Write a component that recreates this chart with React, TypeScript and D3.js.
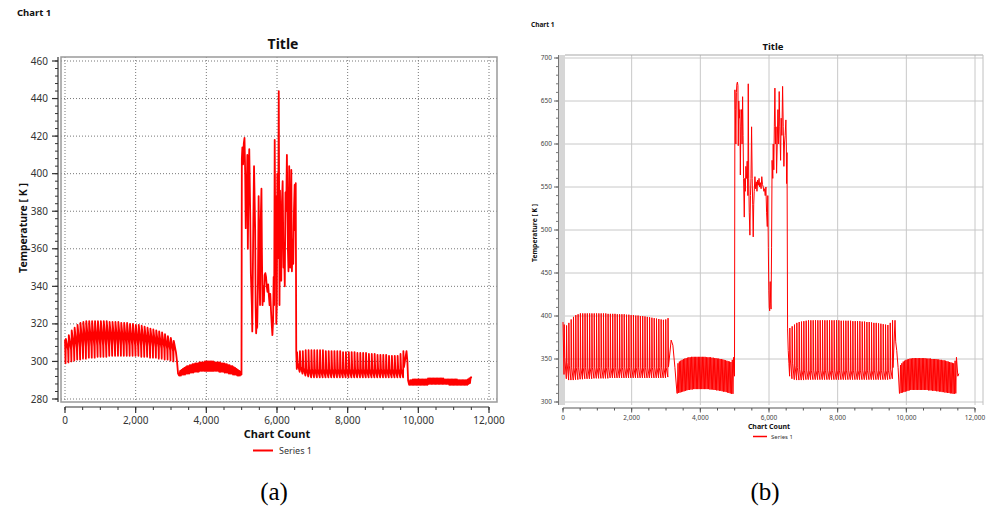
import React from "react";
import * as d3 from "d3";

type Pt = [number, number];

// ---------- shared text / ticks ----------
const chartLabel = "Chart 1";
const chartTitle = "Title";
const xAxisTitle = "Chart Count";
const yAxisTitle = "Temperature [ K ]";
const seriesName = "Series 1";
const countTicks = [0, 2000, 4000, 6000, 8000, 10000, 12000];
const tempTicksA = [280, 300, 320, 340, 360, 380, 400, 420, 440, 460];
const tempTicksB = [300, 350, 400, 450, 500, 550, 600, 650, 700];

// ---------- panel (a) data ----------
const aLeadC = [0];
const aLeadT = [311.5];
const a1Peak = [312, 314, 316.5, 318, 319.5, 320.5, 321, 321.5, 321.5, 321.5, 321.5, 321.5, 321.5, 321.5, 321.5, 321, 321, 321, 321, 320.5, 320.5, 320.5, 320, 320, 319.5, 319.5, 319, 318.5, 318, 317.5, 317, 316.5, 316, 315.5, 314.5, 313.5, 312.5, 311];
const a1Mid = [306, 306.5, 307, 307, 307.5, 307.5, 308, 308, 308, 308, 308.5, 308.5, 308.5, 308.5, 308.5, 308.5, 308.5, 308.5, 308.5, 308.5, 308.5, 308.5, 308.5, 308.5, 308.5, 308.5, 308.5, 308, 308, 308, 307.5, 307.5, 307, 307, 306.5, 306, 305.5, 305];
const a1Low = [299, 299.5, 300, 300.5, 301, 301, 301.5, 301.5, 302, 302, 302, 302.5, 302.5, 302.5, 302.5, 303, 303, 303, 303, 303, 303, 303, 303, 303, 303, 303, 302.5, 302.5, 302.5, 302, 302, 302, 301.5, 301.5, 301, 301, 300.5, 300];
const aT1C = [3170, 3200, 3230];
const aT1T = [300, 293.5, 292.5];
const a2Hi = [295, 295.5, 296, 296.5, 297, 297.5, 297.5, 298, 298, 298.5, 298.5, 299, 299, 299, 299.5, 299.5, 299.5, 299.5, 300, 300, 300, 300, 300, 300, 300, 299.5, 299.5, 299.5, 299.5, 299.5, 299, 299, 299, 298.5, 298.5, 298, 298, 297.5, 297.5, 297, 296.5, 296, 295.5, 295, 294.5];
const a2Lo = [292.5, 292.5, 293, 293, 293, 293.5, 293.5, 293.5, 294, 294, 294, 294.5, 294.5, 294.5, 294.5, 295, 295, 295, 295, 295, 295, 295, 295, 295, 295, 295, 295, 295, 295, 294.5, 294.5, 294.5, 294.5, 294, 294, 294, 293.5, 293.5, 293.5, 293, 293, 293, 292.5, 292.5, 292.5];
const aWildC = [4995, 5005, 5020, 5040, 5060, 5080, 5100, 5115, 5128, 5140, 5160, 5175, 5193, 5215, 5241, 5260, 5288, 5300, 5315, 5330, 5350, 5382, 5395, 5410, 5425, 5440, 5460, 5480, 5505, 5520, 5540, 5560, 5572, 5590, 5610, 5630, 5650, 5670, 5690, 5710, 5730, 5750, 5770, 5790, 5810, 5830, 5850, 5870, 5890, 5905, 5920, 5935, 5949, 5965, 5980, 5995, 6010, 6030, 6050, 6071, 6085, 6100, 6120, 6140, 6160, 6185, 6200, 6220, 6240, 6260, 6280, 6308, 6325, 6345, 6374, 6390, 6405, 6422, 6440, 6460, 6480, 6500, 6515, 6530, 6545, 6555];
const aWildT = [293, 408, 414, 405, 416, 419, 400, 371, 395, 385, 410, 360, 395, 413, 380, 347, 330, 316, 345, 375, 404, 370, 330, 315, 322, 318, 340, 388, 350, 330, 375, 392, 360, 330, 340, 332, 346, 347, 345, 340, 337, 341, 335, 330, 336, 327, 320, 314, 322, 345, 330, 418, 375, 388, 320, 330, 400, 355, 444, 330, 391, 350, 343, 385, 396, 350, 360, 340, 390, 380, 410, 360, 348, 404, 350, 370, 402, 348, 365, 352, 380, 394, 370, 395, 305];
const a4Peak = [305, 305.5, 305.5, 306, 306, 306, 306, 306, 306, 306, 305.5, 305.5, 305.5, 305.5, 305.5, 305.5, 305, 305, 305, 305, 305, 304.5, 304.5, 304.5, 304.5, 304, 304, 304, 303.5, 303.5, 303.5, 303.5, 303, 303, 303, 303, 304, 305.5];
const a4Mid = [299, 297.5, 296.5, 296, 296, 296, 296, 296, 296, 296, 296, 296, 296, 296, 296, 296, 296, 296, 296, 296, 296, 296, 296, 296, 296, 296, 296, 296, 296, 296, 296, 296, 296, 296, 296, 296, 296, 297];
const a4Low = [296, 294.5, 293.5, 292.5, 292, 291.5, 291.5, 291.5, 291.5, 291.5, 291.5, 291.5, 291.5, 291.5, 291.5, 291.5, 291.5, 291.5, 291.5, 291.5, 291.5, 291.5, 291.5, 291.5, 291.5, 291.5, 291.5, 291.5, 291.5, 291.5, 291.5, 291.5, 291.5, 291.5, 291.5, 291.5, 291.5, 291.5];
const aT4C = [9665, 9690, 9710, 9740];
const aT4T = [305.5, 300, 290, 287.5];
const a5Hi = [290, 290, 290.5, 290.5, 290.5, 290.5, 290.5, 290.5, 290.5, 290.5, 290.5, 290.5, 290.5, 291, 291, 291, 291, 291, 291, 291, 291, 291, 291, 291, 291, 290.5, 290.5, 290.5, 290.5, 290.5, 290.5, 290.5, 290.5, 290.5, 290.5, 290, 290, 290, 290, 290, 290, 290, 290.5, 291, 291.5];
const a5Lo = [287.5, 287.5, 287.5, 287.5, 287.5, 287.5, 287.5, 287.5, 287.5, 287.5, 287.5, 287.5, 287.5, 287.5, 288, 288, 288, 288, 288, 288, 288, 288, 288, 288, 288, 288, 288, 288, 288, 287.5, 287.5, 287.5, 287.5, 287.5, 287.5, 287.5, 287.5, 287.5, 287.5, 287.5, 287.5, 287.5, 287.5, 288, 288.5];
const aEndC = [11520];
const aEndT = [291.5];

// ---------- panel (b) data ----------
const bLeadC = [0];
const bLeadT = [393];
const b1Peak = [390, 389, 392, 396, 399, 401, 402, 403, 403, 403, 403, 403, 403, 403, 403, 403, 403, 403, 403, 402.5, 402.5, 402.5, 402.5, 402, 402, 402, 402, 401.5, 401.5, 401, 401, 400.5, 400.5, 400, 400, 399.5, 399, 398.5, 398, 397.5, 397, 396.5, 396, 395.5, 396, 397.5];
const b1Mid = [352, 346, 342, 340, 340, 340, 340, 340, 340, 340, 340, 340, 340, 340, 340, 340, 340, 340, 340, 340, 340, 340, 340, 340, 340, 340, 340, 340, 340, 340, 340, 340, 340, 340, 340, 340, 340, 340, 340, 340, 340, 340, 340, 340, 340, 341];
const b1Low = [332, 327, 325.5, 325.5, 325.5, 326, 326, 326.5, 326.5, 327, 327, 327, 327, 327.5, 327.5, 327.5, 327.5, 327.5, 327.5, 327.5, 328, 328, 328, 328, 328, 328, 328, 328, 328, 328, 328, 328, 328, 328, 328, 328, 328, 328, 328, 328, 328, 328, 328, 328, 328, 329];
const bT1C = [3150, 3200, 3260, 3320];
const bT1T = [372, 366, 340, 310];
const b2Hi = [345, 347, 348, 349, 350, 350.5, 351, 351.5, 352, 352, 352.5, 352.5, 352.5, 352.5, 352.5, 352.5, 352.5, 352.5, 352.5, 352.5, 352.5, 352, 352, 352, 352, 351.5, 351.5, 351, 351, 350.5, 350.5, 350, 350, 349.5, 349, 348.5, 348, 347.5, 347, 346.5, 349, 352];
const b2Lo = [310, 310.5, 311, 311.5, 312, 312.5, 313, 313.5, 314, 314, 314.5, 314.5, 315, 315, 315, 315, 315, 315, 315, 315, 315, 315, 315, 315, 314.5, 314.5, 314.5, 314, 314, 313.5, 313.5, 313, 313, 312.5, 312, 312, 311.5, 311, 310.5, 310, 309.5, 309.5];
const bWildC = [4995, 5007, 5020, 5035, 5050, 5065, 5080, 5095, 5105, 5120, 5135, 5153, 5165, 5180, 5200, 5215, 5231, 5245, 5260, 5280, 5295, 5310, 5327, 5345, 5365, 5385, 5396, 5410, 5425, 5444, 5460, 5475, 5493, 5510, 5525, 5540, 5555, 5570, 5590, 5610, 5630, 5650, 5670, 5690, 5710, 5730, 5750, 5770, 5790, 5810, 5832, 5850, 5870, 5890, 5910, 5930, 5950, 5965, 5980, 5995, 6007, 6020, 6035, 6050, 6060, 6075, 6090, 6110, 6123, 6140, 6155, 6172, 6190, 6205, 6221, 6240, 6260, 6280, 6297, 6315, 6338, 6355, 6375, 6396, 6415, 6434, 6450, 6470, 6492, 6505, 6512, 6525, 6541];
const bWildT = [330, 663, 640, 600, 660, 670, 672, 668, 598, 650, 630, 640, 564, 620, 640, 600, 655, 610, 560, 515, 560, 545, 574, 560, 580, 540, 670, 560, 520, 494, 540, 560, 620, 560, 530, 492, 530, 545, 562, 548, 556, 545, 558, 552, 560, 550, 555, 548, 562, 553, 550, 545, 548, 540, 550, 520, 504, 540, 480, 430, 410, 406, 440, 415, 408, 480, 581, 560, 600, 570, 620, 665, 600, 620, 566, 600, 640, 600, 661, 620, 581, 630, 610, 667, 620, 574, 600, 610, 628, 600, 554, 590, 385];
const bT3C = [6560, 6580];
const bT3T = [360, 345];
const b4Peak = [386, 388, 390, 392, 393, 393.5, 394, 394.5, 395, 395, 395, 395, 395, 395, 395, 395, 395, 395, 395, 395, 395, 395, 394.5, 394.5, 394.5, 394.5, 394.5, 394, 394, 394, 394, 393.5, 393.5, 393, 393, 392.5, 392, 392, 391.5, 391, 390.5, 390, 389.5, 392, 395];
const b4Mid = [350, 345, 342, 340, 338, 337, 337, 337, 337, 337, 337, 337, 337, 337, 337, 337, 337, 337, 337, 337, 337, 337, 337, 337, 337, 337, 337, 337, 337, 337, 337, 337, 337, 337, 337, 337, 337, 337, 337, 337, 337, 337, 337, 338, 340];
const b4Low = [330, 327, 326, 325.5, 325.5, 325.5, 325.5, 326, 326, 326, 326, 326, 326, 326, 326, 326, 326, 326, 326, 326, 326, 326, 326, 326, 326, 326, 326, 326, 326, 326, 326, 326, 326, 326, 326, 326, 326, 326, 326, 326, 326, 326, 326, 326.5, 327];
const bT4C = [9670, 9690, 9720, 9760, 9800];
const bT4T = [395, 370, 360, 340, 310];
const b5Hi = [343, 345, 347, 348, 349, 349.5, 350, 350.5, 350.5, 351, 351, 351, 351, 351, 351, 351, 351, 351, 351, 350.5, 350.5, 350.5, 350.5, 350, 350, 350, 350, 349.5, 349.5, 349, 349, 348.5, 348.5, 348, 347.5, 347, 346.5, 346, 345.5, 345, 348, 352];
const b5Lo = [310, 310.5, 311, 311.5, 312, 312.5, 313, 313.5, 314, 314, 314, 314, 314, 314, 314, 314, 314, 314, 314, 314, 314, 313.5, 313.5, 313.5, 313, 313, 313, 312.5, 312.5, 312, 312, 311.5, 311.5, 311, 311, 310.5, 310.5, 310, 310, 309.5, 309.5, 310];
const bEndC = [11500, 11530];
const bEndT = [330, 333];

// ---------- builders ----------
function pairs(c: number[], t: number[]): Pt[] {
  const n = Math.min(c.length, t.length);
  const out: Pt[] = [];
  for (let i = 0; i < n; i++) out.push([c[i], t[i]]);
  return out;
}
function spikes(start: number, end: number, peaks: number[], mids: number[], lows: number[], pf: number, mf: number): Pt[] {
  const n = Math.min(peaks.length, mids.length, lows.length);
  const p = (end - start) / n;
  const out: Pt[] = [];
  for (let i = 0; i < n; i++) {
    const t = start + i * p;
    out.push([t, lows[i]], [t + pf * p, peaks[i]], [t + mf * p, mids[i]]);
  }
  return out;
}
function band(start: number, end: number, his: number[], los: number[]): Pt[] {
  const n = Math.min(his.length, los.length);
  const p = (end - start) / n;
  const out: Pt[] = [];
  for (let i = 0; i < n; i++) {
    const t = start + i * p;
    out.push([t, los[i]], [t + p / 2, his[i]]);
  }
  return out;
}

const seriesA: Pt[] = [
  ...pairs(aLeadC, aLeadT),
  ...spikes(15, 3150, a1Peak, a1Mid, a1Low, 0.12, 0.88),
  ...pairs(aT1C, aT1T),
  ...band(3240, 4990, a2Hi, a2Lo),
  ...pairs(aWildC, aWildT),
  ...spikes(6560, 9650, a4Peak, a4Mid, a4Low, 0.1, 0.3),
  ...pairs(aT4C, aT4T),
  ...band(9750, 11500, a5Hi, a5Lo),
  ...pairs(aEndC, aEndT),
];

const seriesB: Pt[] = [
  ...pairs(bLeadC, bLeadT),
  ...spikes(30, 3120, b1Peak, b1Mid, b1Low, 0.1, 0.3),
  ...pairs(bT1C, bT1T),
  ...band(3330, 4990, b2Hi, b2Lo),
  ...pairs(bWildC, bWildT),
  ...pairs(bT3C, bT3T),
  ...spikes(6600, 9660, b4Peak, b4Mid, b4Low, 0.1, 0.3),
  ...pairs(bT4C, bT4T),
  ...band(9810, 11480, b5Hi, b5Lo),
  ...pairs(bEndC, bEndT),
];

const FONT = "'Noto Sans', 'DejaVu Sans', sans-serif";
const fmt = d3.format(",");

function PanelA() {
  const x = d3.scaleLinear().domain([0, 12000]).range([65, 489]);
  const y = d3.scaleLinear().domain([280, 460]).range([399, 61]);
  const line = d3.line<Pt>().x((d) => x(d[0])).y((d) => y(d[1]));
  const xMinor = d3.range(0, 12001, 500);
  const yMinor = d3.range(280, 461, 4);
  return (
    <g fontFamily={FONT}>
      <text x={17} y={16} fontSize={9.5} fontWeight="bold" fill="#111">{chartLabel}</text>
      <text x={283} y={49} fontSize={14} fontWeight="bold" textAnchor="middle" fill="#111">{chartTitle}</text>
      {tempTicksA.map((t) => (
        <line key={"gy" + t} x1={61} x2={497} y1={y(t)} y2={y(t)} stroke="#777" strokeDasharray="1,2" />
      ))}
      {countTicks.map((c) => (
        <line key={"gx" + c} x1={x(c)} x2={x(c)} y1={57} y2={402} stroke="#777" strokeDasharray="1,2" />
      ))}
      <rect x={61} y={57} width={436} height={345} fill="none" stroke="#9a9a9a" strokeWidth={1.5} />
      <line x1={58} x2={58} y1={57} y2={402} stroke="#333" strokeWidth={1.2} />
      {yMinor.map((t) => (
        <line key={"my" + t} x1={55} x2={58} y1={y(t)} y2={y(t)} stroke="#333" />
      ))}
      {tempTicksA.map((t) => (
        <g key={"ty" + t}>
          <line x1={52} x2={58} y1={y(t)} y2={y(t)} stroke="#333" strokeWidth={1.2} />
          <text x={48} y={y(t) + 3.5} fontSize={10} textAnchor="end" fill="#333">{t}</text>
        </g>
      ))}
      <line x1={65} x2={489} y1={407} y2={407} stroke="#333" strokeWidth={1.2} />
      {xMinor.map((c) => (
        <line key={"mx" + c} x1={x(c)} x2={x(c)} y1={407} y2={410} stroke="#333" />
      ))}
      {countTicks.map((c) => (
        <g key={"tx" + c}>
          <line x1={x(c)} x2={x(c)} y1={407} y2={413} stroke="#333" strokeWidth={1.2} />
          <text x={x(c)} y={424} fontSize={10} textAnchor="middle" fill="#333">{fmt(c)}</text>
        </g>
      ))}
      <path d={line(seriesA) || ""} fill="none" stroke="#ff0000" strokeWidth={1.8} strokeLinejoin="round" />
      <text x={277} y={438} fontSize={11} fontWeight="bold" textAnchor="middle" fill="#111">{xAxisTitle}</text>
      <text transform="translate(27,228) rotate(-90)" fontSize={10.5} fontWeight="bold" textAnchor="middle" fill="#111">{yAxisTitle}</text>
      <line x1={253} x2={273} y1={450.5} y2={450.5} stroke="#ff0000" strokeWidth={2} />
      <text x={279} y={454} fontSize={9} fill="#333">{seriesName}</text>
    </g>
  );
}

function PanelB() {
  const x = d3.scaleLinear().domain([0, 12000]).range([563, 975]);
  const y = d3.scaleLinear().domain([300, 700]).range([402, 58]);
  const line = d3.line<Pt>().x((d) => x(d[0])).y((d) => y(d[1]));
  const xMinor = d3.range(0, 12001, 500);
  const yMinor = d3.range(300, 701, 10);
  return (
    <g fontFamily={FONT}>
      <text x={531} y={27} fontSize={6.5} fontWeight="bold" fill="#111">{chartLabel}</text>
      <text x={773} y={49.5} fontSize={9.5} fontWeight="bold" textAnchor="middle" fill="#111">{chartTitle}</text>
      {tempTicksB.map((t) => (
        <line key={"gy" + t} x1={565} x2={983} y1={y(t)} y2={y(t)} stroke="#c8c8c8" />
      ))}
      {countTicks.map((c) => (
        <line key={"gx" + c} x1={x(c)} x2={x(c)} y1={55} y2={405} stroke="#c8c8c8" />
      ))}
      <line x1={565} x2={983} y1={55} y2={55} stroke="#a8a8a8" strokeWidth={1.2} />
      <line x1={983} x2={983} y1={55} y2={405} stroke="#c0c0c0" />
      <rect x={559} y={55} width={6} height={350} fill="#d6d6d6" />
      <line x1={558.5} x2={558.5} y1={55} y2={405} stroke="#777" />
      {yMinor.map((t) => (
        <line key={"my" + t} x1={556} x2={558.5} y1={y(t)} y2={y(t)} stroke="#777" />
      ))}
      {tempTicksB.map((t) => (
        <g key={"ty" + t}>
          <line x1={554} x2={558.5} y1={y(t)} y2={y(t)} stroke="#666" />
          <text x={552} y={y(t) + 2.3} fontSize={6.5} textAnchor="end" fill="#444">{t}</text>
        </g>
      ))}
      <line x1={563} x2={975} y1={408} y2={408} stroke="#555" />
      {xMinor.map((c) => (
        <line key={"mx" + c} x1={x(c)} x2={x(c)} y1={408} y2={410.5} stroke="#555" />
      ))}
      {countTicks.map((c) => (
        <g key={"tx" + c}>
          <line x1={x(c)} x2={x(c)} y1={408} y2={412.5} stroke="#555" />
          <text x={x(c)} y={420} fontSize={6.5} textAnchor="middle" fill="#444">{fmt(c)}</text>
        </g>
      ))}
      <path d={line(seriesB) || ""} fill="none" stroke="#ff0000" strokeWidth={1.0} strokeLinejoin="round" />
      <text x={769} y={428.5} fontSize={7} fontWeight="bold" textAnchor="middle" fill="#111">{xAxisTitle}</text>
      <text transform="translate(537,233) rotate(-90)" fontSize={6.8} fontWeight="bold" textAnchor="middle" fill="#111">{yAxisTitle}</text>
      <line x1={753} x2={767} y1={436.5} y2={436.5} stroke="#ff0000" strokeWidth={1.5} />
      <text x={771} y={439} fontSize={6} fill="#333">{seriesName}</text>
    </g>
  );
}

export default function App() {
  return (
    <svg width={1001} height={514} viewBox="0 0 1001 514" style={{ position: "absolute", left: 0, top: 0, display: "block", background: "#fff" }}>
      <rect x={0} y={0} width={1001} height={514} fill="#fff" />
      <PanelA />
      <PanelB />
      <text x={274} y={500} fontSize={25} fontFamily="'Liberation Serif', 'Times New Roman', serif" textAnchor="middle" fill="#000">(a)</text>
      <text x={765} y={500} fontSize={25} fontFamily="'Liberation Serif', 'Times New Roman', serif" textAnchor="middle" fill="#000">(b)</text>
    </svg>
  );
}
